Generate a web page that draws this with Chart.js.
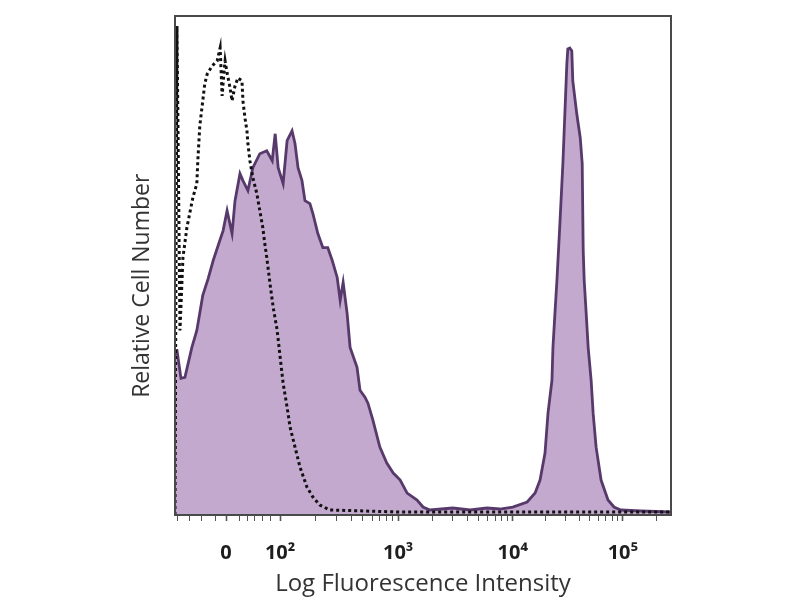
<!DOCTYPE html>
<html><head><meta charset="utf-8">
<script src="https://cdn.jsdelivr.net/npm/chart.js@4.4.0/dist/chart.umd.min.js"></script>
<style>html,body{margin:0;padding:0;background:#fff}</style>
</head><body>
<canvas id="c" width="800" height="600"></canvas>
<script>
// Channel (0-1000 display channels on a biexponential axis) and relative counts
const stainedChannel = [0,4,12,20,34,44,56,67,77,87,97,105,115,121,131,137,147,157,171,185,196,202,208,218,226,236,242,248,256,262,272,278,288,298,308,317,327,333,339,347,353,367,373,383,389,399,413,427,440,454,468,488,500,514,560,595,629,655,681,710,726,736,746,752,760,762,766,770,776,782,786,790,792,796,800,802,810,817,821,823,825,829,833,839,843,849,859,873,885,899,939,1000];
const stainedCount   = [165,165,137,138,168,185,220,237,255,270,285,305,282,315,342,335,325,348,362,365,355,382,348,332,375,385,372,348,335,315,312,302,282,268,268,255,238,215,233,202,168,148,125,118,112,95,68,52,42,35,22,15,8,5,7,5,7,6,8,13,22,35,62,102,135,168,202,235,292,352,402,452,467,468,465,435,402,378,352,265,235,202,168,135,102,68,35,15,8,5,4,3];
const controlChannel = [0,4,10,16,24,36,44,46,50,56,60,65,75,85,91,95,99,101,105,111,115,121,127,135,137,141,145,147,151,157,165,171,177,181,185,192,198,206,212,218,226,232,242,252,266,278,292,312,454,655,857,1000];
const controlCount   = [0,490,185,258,288,318,332,355,390,415,432,442,450,455,468,420,445,455,443,428,415,430,438,435,415,398,385,372,355,338,322,305,288,272,258,230,208,185,158,132,108,88,68,48,28,18,10,5,3,3,3,3];

const majorTickChannels = [103, 212, 450, 681, 903];
const majorTickLabels = ['0', '10²', '10³', '10⁴', '10⁵'];
const lowMinorTickChannels = [6, 30, 54, 81, 131, 147, 161, 177, 192];
const xTitle = 'Log Fluorescence Intensity';
const yTitle = 'Relative Cell Number';

const xMin = 0, xMax = 1000, yMax = 500;

// log minor ticks inside each decade
const minorTicks = lowMinorTickChannels.slice();
for (let i = 1; i < majorTickChannels.length; i++) {
  const a = majorTickChannels[i];
  const w = (i < majorTickChannels.length - 1) ? majorTickChannels[i + 1] - a : majorTickChannels[i] - majorTickChannels[i - 1];
  for (let k = 2; k <= 9; k++) {
    const p = a + Math.log10(k) * w;
    if (p < xMax) minorTicks.push(p);
  }
}
const allTicks = majorTickChannels.concat(minorTicks).sort((a, b) => a - b);

const framePlugin = {
  id: 'frame',
  afterDraw(chart) {
    const {ctx, chartArea: a} = chart;
    ctx.save();
    ctx.strokeStyle = '#4a4a4a';
    ctx.lineWidth = 2;
    ctx.strokeRect(a.left, a.top, a.right - a.left, a.bottom - a.top);
    ctx.restore();
  }
};

new Chart(document.getElementById('c'), {
  type: 'line',
  data: {
    datasets: [
      {
        label: 'Isotype control',
        data: controlChannel.map((x, i) => ({x, y: controlCount[i]})),
        borderColor: '#111111',
        borderWidth: 3,
        borderDash: [3, 3],
        pointRadius: 0,
        fill: false,
        tension: 0
      },
      {
        label: 'Stained',
        data: stainedChannel.map((x, i) => ({x, y: stainedCount[i]})),
        borderColor: '#573a6b',
        borderWidth: 2.8,
        backgroundColor: '#c4a9cf',
        pointRadius: 0,
        fill: 'origin',
        tension: 0
      }
    ]
  },
  options: {
    responsive: false,
    animation: false,
    devicePixelRatio: 1,
    layout: {padding: {left: 125, top: 16, right: 129, bottom: 0}},
    plugins: {legend: {display: false}, tooltip: {enabled: false}},
    scales: {
      x: {
        type: 'linear',
        min: xMin, max: xMax,
        afterBuildTicks(scale) { scale.ticks = allTicks.map(v => ({value: v})); },
        afterFit(scale) { scale.height = 85; },
        border: {display: false},
        grid: {
          drawOnChartArea: false, drawTicks: true, tickLength: 6,
          tickColor: '#555',
          tickWidth: ctx => majorTickChannels.includes(ctx.tick && ctx.tick.value) ? 1.6 : 1
        },
        ticks: {
          autoSkip: false, maxRotation: 0, minRotation: 0, padding: 20,
          color: '#1e1e1e',
          font: {family: 'Open Sans', size: 20, weight: 'bold'},
          callback: (v) => {
            const i = majorTickChannels.indexOf(v);
            return i >= 0 ? majorTickLabels[i] : '';
          }
        },
        title: {
          display: true, text: xTitle,
          color: '#333', font: {family: 'Open Sans', size: 24},
          padding: {top: 0, bottom: 1}
        }
      },
      y: {
        type: 'linear',
        min: 0, max: yMax,
        afterFit(scale) { scale.width = 50; },
        border: {display: false},
        grid: {display: false},
        ticks: {display: false},
        title: {
          display: true, text: yTitle + '\u2002\u2002\u2002 ',
          color: '#333', font: {family: 'Open Sans', size: 23},
          padding: {top: 4, bottom: 0}
        }
      }
    }
  },
  plugins: [framePlugin]
});
</script>
</body></html>
